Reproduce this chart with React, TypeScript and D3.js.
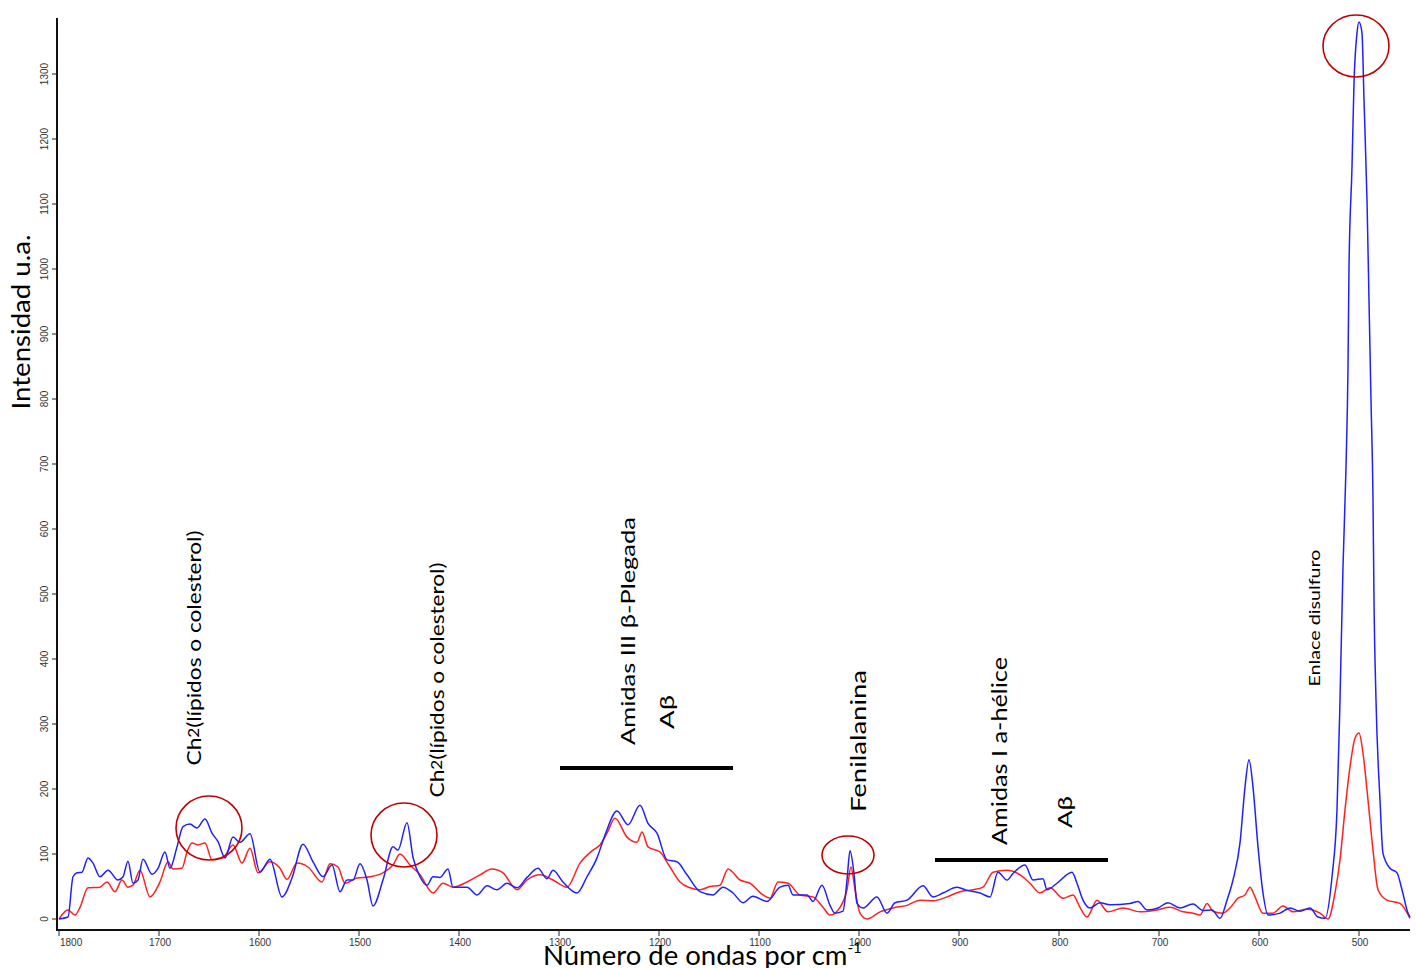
import React from "react";
import * as d3 from "d3";

// ---------- DATA ----------
const blueWave = [1800,1791,1786,1782,1777,1771,1766,1759,1751,1741,1736,1731,1726,1721,1716,1707,1701,1694,1689,1682,1676,1669,1662,1654,1647,1641,1634,1626,1619,1609,1599,1589,1577,1567,1556,1546,1536,1527,1519,1512,1506,1499,1492,1486,1476,1466,1461,1452,1446,1439,1432,1426,1419,1411,1406,1392,1382,1372,1362,1352,1342,1332,1321,1312,1306,1296,1282,1272,1262,1254,1242,1231,1219,1211,1202,1192,1182,1172,1159,1146,1136,1126,1116,1106,1092,1079,1071,1066,1052,1046,1037,1029,1024,1016,1012,1009,1005,1002,996,982,972,964,952,936,926,916,902,892,879,869,861,852,846,834,826,816,812,802,787,782,776,769,759,749,729,721,712,701,691,679,666,656,647,639,632,626,619,614,610,606,601,596,591,579,569,559,549,541,534,527,522,519,516,513,511,510,507,505,502,500,497,495,492,490,488,486,485,483,479,476,469,462,457,451,449];
const blueVal = [0,3,65,71,72,94,86,65,75,60,65,89,55,60,92,69,78,103,78,111,142,146,140,154,132,119,94,126,118,131,72,92,34,63,115,88,65,83,42,60,60,85,60,20,60,111,106,148,95,65,52,65,64,77,49,49,37,51,45,55,48,64,78,62,75,57,40,65,94,129,166,145,175,147,132,91,88,68,42,37,49,40,25,35,27,49,52,37,37,27,52,21,9,12,60,105,70,24,17,34,9,25,29,51,34,40,49,44,40,34,72,60,70,83,60,62,45,55,72,55,29,17,25,22,24,27,14,17,25,17,23,13,14,1,29,60,117,203,245,203,111,40,6,9,17,12,17,3,1,65,168,337,542,695,849,1003,1157,1286,1363,1380,1363,1260,1106,952,798,645,491,337,183,101,78,71,45,9,3];

const redWave = [1800,1791,1784,1779,1771,1759,1752,1744,1737,1731,1726,1719,1709,1699,1691,1686,1677,1672,1667,1661,1654,1647,1636,1626,1617,1609,1601,1589,1579,1572,1562,1551,1537,1529,1521,1514,1502,1489,1476,1466,1459,1449,1439,1426,1416,1406,1392,1379,1367,1356,1342,1332,1319,1306,1292,1279,1266,1259,1252,1244,1232,1222,1217,1211,1199,1189,1179,1169,1159,1149,1139,1131,1119,1109,1096,1089,1081,1071,1059,1046,1036,1029,1019,1012,1008,1004,999,992,979,966,952,939,926,912,899,886,876,866,852,839,829,819,809,796,786,779,772,762,751,736,719,702,689,676,666,659,652,646,636,629,621,614,609,604,596,586,576,566,552,539,531,524,519,514,509,504,500,496,491,486,481,472,459,449];
const redVal = [0,14,6,18,48,49,57,42,60,49,52,75,34,57,88,77,78,103,117,114,117,91,94,114,86,109,71,88,78,61,86,80,57,85,80,55,63,65,71,83,100,83,68,40,55,49,57,68,77,71,45,60,68,60,49,86,106,114,132,155,126,118,134,111,103,80,57,48,45,50,52,77,60,55,37,32,57,55,37,34,18,6,18,45,80,45,9,0,11,17,21,29,28,34,42,45,49,72,75,68,55,40,48,32,37,18,3,29,11,17,11,14,18,11,9,6,24,12,9,17,32,37,49,34,9,9,20,11,15,9,0,40,91,168,234,278,286,255,183,106,45,29,24,1];

const xTicks = [1800,1700,1600,1500,1400,1300,1200,1100,1000,900,800,700,600,500];
const yTicks = [0,100,200,300,400,500,600,700,800,900,1000,1100,1200,1300];

const yTitle = "Intensidad u.a.";
const xTitle = "Número de ondas por cm";
const xTitleSup = "-1";

// annotations
const labelTexts = ["Ch2(lípidos o colesterol)", "Ch2(lípidos o colesterol)", "Amidas III β-Plegada", "Aβ", "Fenilalanina", "Amidas I a-hélice", "Aβ", "Enlace disulfuro"];
const circledPeaks = [1650, 1455, 1011, 503];
const barRanges: [number, number][] = [[1299, 1126], [924, 751]];

// ---------- LAYOUT ----------
const W = 1416, H = 968;
const xAxisY = 930, yAxisX = 57;

const x = d3.scaleLinear().domain([1800, 449]).range([59, 1410]);
const y = d3.scaleLinear().domain([0, 1300]).range([919, 74]);

const labelPos = [
  { cx: 193, cy: 648, fs: 20 },
  { cx: 436, cy: 680, fs: 20 },
  { cx: 627, cy: 631, fs: 20 },
  { cx: 666, cy: 712, fs: 20 },
  { cx: 857, cy: 741, fs: 21 },
  { cx: 998, cy: 751, fs: 21 },
  { cx: 1064, cy: 812, fs: 20 },
  { cx: 1313, cy: 618, fs: 16 },
];
const labelLen = [235, 235, 228, 34, 142, 188, 32, 137];
const circleGeom = [
  { cy: 828, rx: 33, ry: 32 },
  { cy: 835, rx: 33, ry: 32 },
  { cy: 855, rx: 26, ry: 19 },
  { cy: 46, rx: 33, ry: 31 },
];
const barY = [768, 860];
const labelFont = "Lato, 'Open Sans', sans-serif";

export default function App() {
  const line = d3
    .line<[number, number]>()
    .x((d) => x(d[0]))
    .y((d) => y(d[1]))
    .curve(d3.curveMonotoneX);

  const bluePts = blueWave.map((w, i) => [w, blueVal[i]] as [number, number]).sort((a, b) => a[0] - b[0]);
  const redPts = redWave.map((w, i) => [w, redVal[i]] as [number, number]).sort((a, b) => a[0] - b[0]);

  const tickFont = "'Liberation Sans', Arial, sans-serif";

  return (
    <svg
      width={W}
      height={H}
      style={{ position: "absolute", left: 0, top: 0, background: "#fff" }}
    >
      <rect width={W} height={H} fill="#fff" />
      {/* series */}
      <path d={line(redPts) || ""} fill="none" stroke="#ff2020" strokeWidth={1.5} strokeLinejoin="round" />
      <path d={line(bluePts) || ""} fill="none" stroke="#2020ff" strokeWidth={1.5} strokeLinejoin="round" />

      {/* axes */}
      <line x1={yAxisX} x2={yAxisX} y1={18} y2={xAxisY + 1} stroke="#111" strokeWidth={2} />
      <line x1={yAxisX} x2={1410} y1={xAxisY} y2={xAxisY} stroke="#111" strokeWidth={2} />

      {yTicks.map((t) => (
        <g key={"y" + t}>
          <line x1={yAxisX - 5} x2={yAxisX} y1={y(t)} y2={y(t)} stroke="#222" strokeWidth={1} />
          <text
            transform={`translate(${yAxisX - 13},${y(t)}) rotate(-90)`}
            textAnchor="middle"
            dominantBaseline="central"
            fontFamily={tickFont}
            fontSize={10}
            fill="#333"
          >
            {t}
          </text>
        </g>
      ))}

      {xTicks.map((t, i) => (
        <g key={"x" + t}>
          <line x1={x(t)} x2={x(t)} y1={xAxisY} y2={xAxisY + 6} stroke="#222" strokeWidth={1} />
          <text
            x={i === 0 ? x(t) + 1 : x(t) + 1}
            y={xAxisY + 16}
            textAnchor={i === 0 ? "start" : "middle"}
            fontFamily={tickFont}
            fontSize={10}
            fill="#333"
          >
            {t}
          </text>
        </g>
      ))}

      {/* axis titles */}
      <text
        transform="translate(20,322) rotate(-90)"
        textAnchor="middle"
        dominantBaseline="central"
        fontFamily={labelFont}
        fontSize={25}
        fill="#000"
        textLength={175}
        lengthAdjust="spacingAndGlyphs"
      >
        {yTitle}
      </text>
      <text x={543} y={965} fontFamily={labelFont} fontSize={27.5} fill="#000">
        {xTitle}
        <tspan dy={-12} fontSize={15}>{xTitleSup}</tspan>
      </text>

      {/* annotation bars */}
      {barRanges.map((r, i) => (
        <line key={"b" + i} x1={x(r[0])} x2={x(r[1])} y1={barY[i]} y2={barY[i]} stroke="#000" strokeWidth={4} />
      ))}

      {/* circles */}
      {circledPeaks.map((w, i) => (
        <ellipse
          key={"c" + i}
          cx={x(w)}
          cy={circleGeom[i].cy}
          rx={circleGeom[i].rx}
          ry={circleGeom[i].ry}
          fill="none"
          stroke="#c00000"
          strokeWidth={1.6}
        />
      ))}

      {/* annotation labels */}
      {labelTexts.map((t, i) => {
        const p = labelPos[i];
        const isCh = t.startsWith("Ch2");
        return (
          <text
            key={"l" + i}
            transform={`translate(${p.cx},${p.cy}) rotate(-90)`}
            textAnchor="middle"
            dominantBaseline="central"
            fontFamily={labelFont}
            fontSize={p.fs}
            fill="#000"
            textLength={labelLen[i]}
            lengthAdjust="spacingAndGlyphs"
          >
            {isCh ? (
              <>
                Ch<tspan fontSize={p.fs * 0.75}>2</tspan>
                {t.slice(3)}
              </>
            ) : (
              t
            )}
          </text>
        );
      })}
    </svg>
  );
}
